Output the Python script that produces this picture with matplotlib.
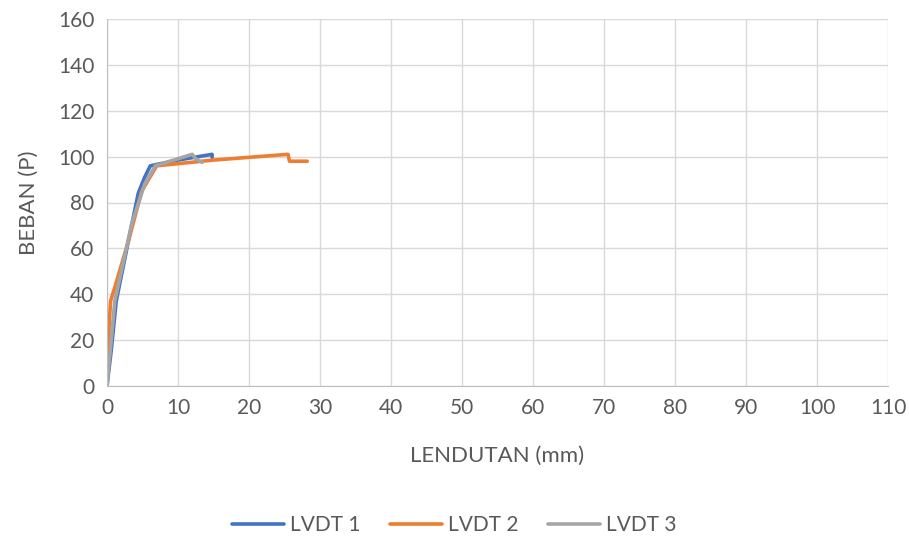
import matplotlib.pyplot as plt
import numpy as np

# data (deflection mm, load P)
lvdt1_x = [0, 0.6, 1.3, 3.0, 4.4, 5.3, 6.1, 10.0, 14.8, 14.8]
lvdt1_y = [0, 15.6, 37, 63, 84, 91, 96, 98.5, 101, 99.7]

lvdt2_x = [0, 0.5, 1.1, 3.0, 4.9, 7.0, 15.0, 25.5, 25.7, 28.2]
lvdt2_y = [10, 37, 43, 63, 85, 96, 98.5, 101, 98, 98]

lvdt3_x = [0, 1.1, 3.5, 5.3, 6.8, 12.0, 12.5, 13.4]
lvdt3_y = [0, 37, 71, 88, 96, 101, 99, 97.5]

names = ["LVDT 1", "LVDT 2", "LVDT 3"]
colors = ["#4472C4", "#ED7D31", "#A5A5A5"]

plt.rcParams['font.family'] = ['Lato', 'DejaVu Sans']
txt = "#595959"

fig = plt.figure(figsize=(9.09, 5.38), dpi=100)
ax = fig.add_axes([107/909, 1 - 386/538, (888-107)/909, (386-19)/538])

for xs, ys, c, n in zip([lvdt1_x, lvdt2_x, lvdt3_x], [lvdt1_y, lvdt2_y, lvdt3_y], colors, names):
    ax.plot(xs, ys, color=c, lw=2.6, label=n, solid_capstyle='round', solid_joinstyle='round')

ax.set_xlim(0, 110)
ax.set_ylim(0, 160)
ax.set_xticks(np.arange(0, 111, 10))
ax.set_yticks(np.arange(0, 161, 20))
ax.grid(True, color="#d9d9d9", lw=1)
ax.set_axisbelow(True)
for s in ["top", "right"]:
    ax.spines[s].set_visible(False)
for s in ["left", "bottom"]:
    ax.spines[s].set_color("#bfbfbf")
ax.tick_params(length=0, labelsize=15, labelcolor=txt, pad=9)
ax.set_xlabel("LENDUTAN (mm)", fontsize=16, color=txt, labelpad=20)
ax.set_ylabel("BEBAN (P)", fontsize=16, color=txt, labelpad=14)

fig.legend(loc="center", bbox_to_anchor=(0.5, 1 - 525/538), ncol=3, frameon=False,
           fontsize=15, labelcolor=txt, handlelength=2.5, handletextpad=0.3, columnspacing=1.4)

fig.savefig("out.png", dpi=100)
